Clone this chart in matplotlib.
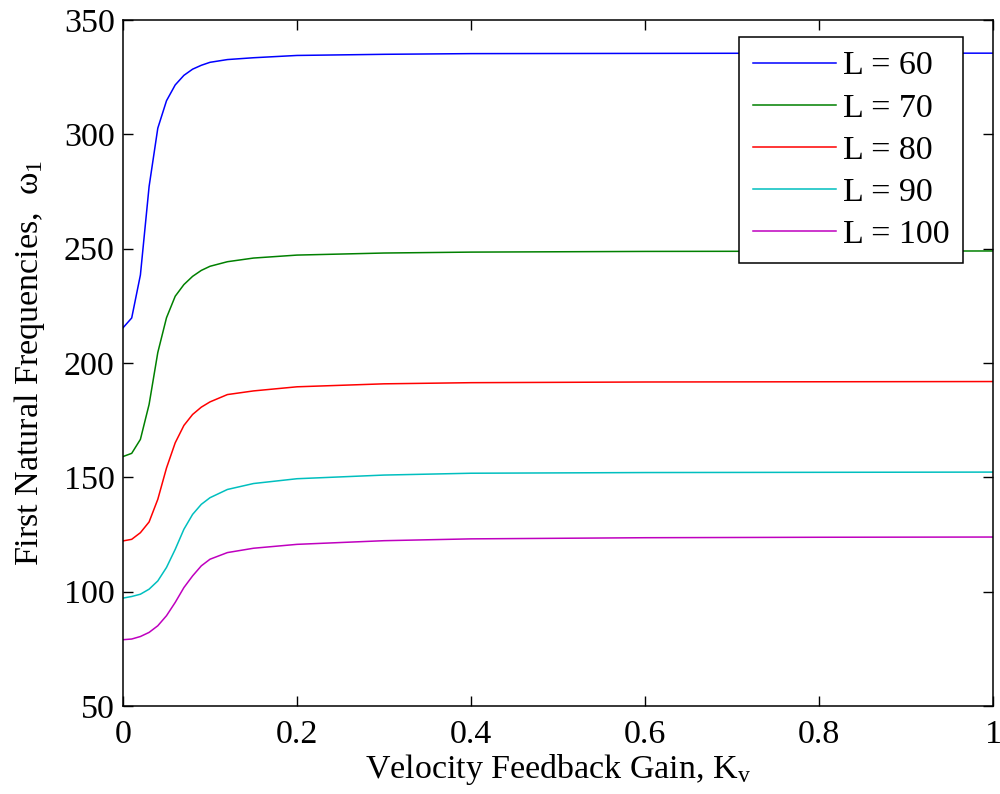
import numpy as np
import matplotlib
matplotlib.use("Agg")
import matplotlib.pyplot as plt

# Velocity feedback gain samples
kv = [0.00, 0.01, 0.02, 0.03, 0.04, 0.05, 0.06, 0.07, 0.08, 0.09, 0.10,
      0.12, 0.15, 0.20, 0.30, 0.40, 0.60, 0.80, 1.00]

# First natural frequency for each beam length
w_L60 = [215.4, 219.7, 238.5, 277.2, 302.7, 314.7, 321.6, 325.8, 328.5, 330.2, 331.5,
         332.7, 333.5, 334.5, 335.0, 335.3, 335.4, 335.5, 335.5]
w_L70 = [159.1, 160.5, 166.6, 181.9, 204.6, 219.8, 229.2, 234.3, 237.9, 240.5, 242.3,
         244.3, 245.9, 247.2, 248.1, 248.5, 248.8, 248.9, 249.0]
w_L80 = [122.2, 122.9, 125.8, 130.5, 140.4, 154.1, 165.1, 172.7, 177.5, 180.7, 183.0,
         186.2, 187.8, 189.6, 190.9, 191.4, 191.7, 191.8, 191.9]
w_L90 = [97.2, 97.9, 98.9, 101.1, 104.7, 110.6, 118.5, 127.3, 133.8, 138.2, 141.1,
         144.7, 147.3, 149.4, 151.0, 151.8, 152.1, 152.2, 152.3]
w_L100 = [79.0, 79.3, 80.4, 82.2, 85.1, 89.5, 95.3, 101.8, 106.9, 111.3, 114.2,
          117.1, 119.0, 120.7, 122.3, 123.1, 123.6, 123.8, 123.9]

labels = ["L = 60", "L = 70", "L = 80", "L = 90", "L = 100"]
series = [w_L60, w_L70, w_L80, w_L90, w_L100]
colors = ["#0000ff", "#008000", "#ff0000", "#00bfbf", "#bf00bf"]

plt.rcParams.update({
    "font.family": "serif",
    "font.serif": ["Liberation Serif", "DejaVu Serif"],
    "mathtext.fontset": "custom",
    "mathtext.rm": "Liberation Serif",
    "mathtext.it": "Liberation Serif:italic",
    "font.size": 24.5,
    "axes.linewidth": 1.1,
    "xtick.direction": "in",
    "ytick.direction": "in",
    "xtick.top": True,
    "ytick.right": True,
    "xtick.major.size": 7,
    "ytick.major.size": 7,
    "xtick.major.width": 1.0,
    "ytick.major.width": 1.0,
})

fig = plt.figure(figsize=(10, 7.94), dpi=100)
ax = fig.add_axes([0.123, 0.1108, 0.870, 0.864])

for vals, lab, c in zip(series, labels, colors):
    ax.plot(kv, vals, color=c, lw=1.1, label=lab)

ax.set_xlim(0, 1)
ax.set_ylim(50, 350)
ax.set_xticks([0, 0.2, 0.4, 0.6, 0.8, 1])
ax.set_xticklabels(["0", "0.2", "0.4", "0.6", "0.8", "1"])
ax.set_yticks(np.arange(50, 351, 50))
ax.tick_params(axis="x", pad=10)
ax.tick_params(axis="y", pad=6)

ax.set_xlabel(r"Velocity Feedback Gain, K$_{\mathrm{v}}$", labelpad=1)
ax.set_ylabel(r"First Natural Frequencies,  $\mathrm{\omega}_{1}$", labelpad=12)

leg = ax.legend(loc="upper right", bbox_to_anchor=(0.9655, 0.9752),
                borderaxespad=0, fancybox=False, framealpha=1,
                edgecolor="black", handlelength=2.45, handletextpad=0.2,
                labelspacing=0.33, borderpad=0.4)
leg.get_frame().set_linewidth(1.1)

fig.savefig("out.png", dpi=100)
